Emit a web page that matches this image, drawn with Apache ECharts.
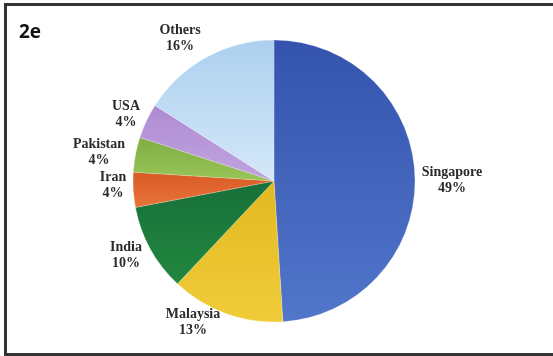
<!DOCTYPE html>
<html>
<head>
<meta charset="utf-8">
<script src="https://cdn.jsdelivr.net/npm/echarts@6/dist/echarts.min.js"></script>
<style>
  html, body { margin: 0; padding: 0; background: #fff; }
  #chart { width: 553px; height: 356px; }
</style>
</head>
<body>
<div id="chart"></div>
<script>
// Share of total, by country (percent)
const countries = ['Singapore', 'Malaysia', 'India', 'Iran', 'Pakistan', 'USA', 'Others'];
const shares = [49, 13, 10, 4, 4, 4, 16];

const sliceColors = {
  Singapore: ['#3453ad', '#5176ca'],
  Malaysia:  ['#e2b820', '#f0cc3a'],
  India:     ['#17703a', '#23873f'],
  Iran:      ['#d95a24', '#e8743a'],
  Pakistan:  ['#7fae42', '#99c458'],
  USA:       ['#ad8bd2', '#c2a4e0'],
  Others:    ['#acd0ef', '#d4e8f8']
};

// Label block centres, placed around the pie
const labelSpots = {
  Singapore: [452, 180],
  Malaysia:  [193, 322],
  India:     [126, 255],
  Iran:      [113, 185],
  Pakistan:  [99, 152],
  USA:       [126, 114],
  Others:    [180, 38]
};

const chart = echarts.init(document.getElementById('chart'), null, { renderer: 'canvas' });

const labelFont = {
  fontFamily: '"Liberation Serif", "Times New Roman", serif',
  fontWeight: 'bold',
  fontSize: 14,
  color: '#2a2a2a',
  lineHeight: 16,
  align: 'center'
};

chart.setOption({
  animation: false,
  backgroundColor: '#fff',
  graphic: [
    {
      type: 'rect',
      shape: { x: 5.5, y: 4.5, width: 570, height: 350 },
      style: { fill: 'none', stroke: '#333', lineWidth: 3 },
      silent: true
    },
    {
      type: 'text',
      left: 19,
      top: 23,
      style: {
        text: '2e',
        font: 'bold 19px "Open Sans", "DejaVu Sans", sans-serif',
        fill: '#111'
      }
    }
  ],
  series: [{
    type: 'pie',
    center: [274, 181],
    radius: 141,
    startAngle: 90,
    clockwise: true,
    label: {
      show: true,
      position: 'outside',
      formatter: p => '{n|' + p.name + '}\n{n|' + p.value + '%}',
      rich: { n: labelFont }
    },
    labelLine: { show: false },
    labelLayout: function (params) {
      const spot = labelSpots[countries[params.dataIndex]];
      return { x: spot[0], y: spot[1], align: 'center', verticalAlign: 'middle' };
    },
    itemStyle: { borderColor: 'rgba(255,255,255,0.35)', borderWidth: 0.6 },
    data: countries.map((name, i) => ({
      name: name,
      value: shares[i],
      itemStyle: {
        color: {
          type: 'linear', x: 0, y: 0, x2: 0, y2: 1,
          colorStops: [
            { offset: 0, color: sliceColors[name][0] },
            { offset: 1, color: sliceColors[name][1] }
          ]
        }
      }
    }))
  }]
});
</script>
</body>
</html>
